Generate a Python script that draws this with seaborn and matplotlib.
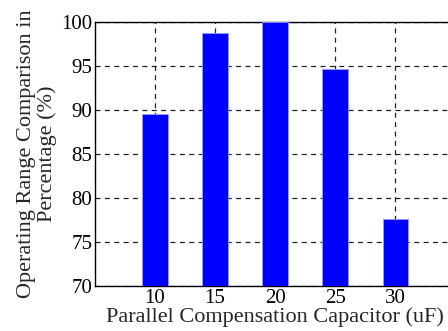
import matplotlib
matplotlib.use("Agg")
import matplotlib.pyplot as plt
import seaborn as sns

# Operating range per parallel compensation capacitor value
capacitance_uF = [10, 15, 20, 25, 30]
operating_range_pct = [89.5, 98.7, 100.0, 94.6, 77.6]
y_ticks = [70, 75, 80, 85, 90, 95, 100]

sns.set_style("white")
plt.rcParams["font.family"] = ["Liberation Serif", "DejaVu Serif"]

fig = plt.figure(figsize=(4.48, 3.31), dpi=100)
ax = fig.add_axes([0.212, 0.136, 0.804, 0.798])

sns.barplot(x=capacitance_uF, y=operating_range_pct, native_scale=True,
            width=0.42, color="#0000ff", saturation=1, edgecolor="#9999ff",
            linewidth=0.6, ax=ax, zorder=3)

ax.set_xlim(5, 35)
ax.set_ylim(70, 100)
ax.set_xticks(capacitance_uF)
ax.set_xticklabels([str(c) for c in capacitance_uF])
ax.set_yticks(y_ticks)
ax.set_axisbelow(True)
ax.grid(True, linestyle=(0, (4, 3.5)), color="#222222", linewidth=0.9)

for side in ["left", "bottom", "top"]:
    ax.spines[side].set_visible(True)
    ax.spines[side].set_color("black")
    ax.spines[side].set_linewidth(1.0)
ax.spines["right"].set_visible(False)

ax.tick_params(axis="both", direction="in", length=0, pad=2, colors="black",
               labelsize=15)

ax.set_xlabel("Parallel Compensation Capacitor (uF)", fontsize=16, labelpad=0)
ax.set_ylabel("Operating Range Comparison in\nPercentage (%)", fontsize=16,
              labelpad=3, linespacing=1.05)

fig.savefig("out.png", dpi=100)
